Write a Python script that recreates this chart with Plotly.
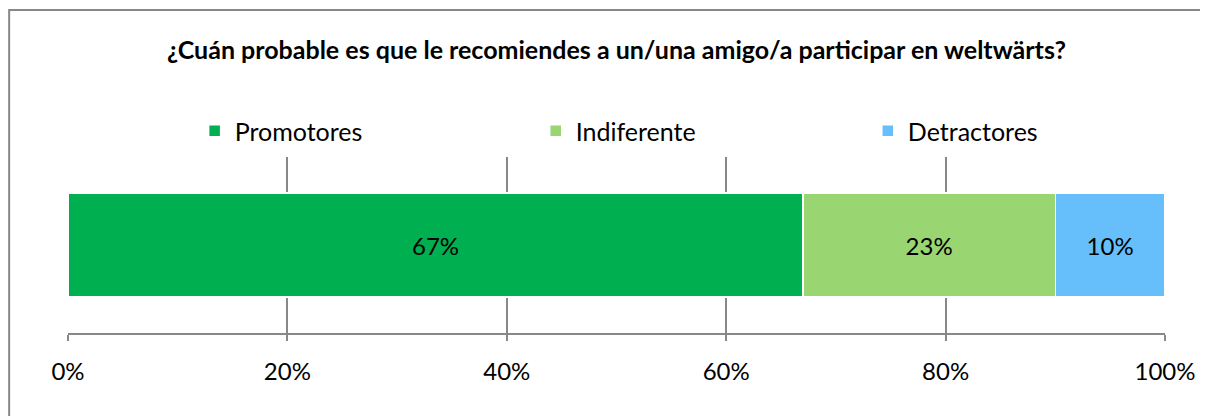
import plotly.graph_objects as go

# ── Data ───────────────────────────────────────────────────────────────────────
categories = ["Promotores", "Indiferente", "Detractores"]
shares = [67, 23, 10]
colors = ["#00B050", "#99D570", "#66BFFA"]
row_label = ["NPS"]
tick_vals = [0, 20, 40, 60, 80, 100]
tick_text = ["0%", "20%", "40%", "60%", "80%", "100%"]
title = "¿Cuán probable es que le recomiendes a un/una amigo/a participar en weltwärts?"

FONT = "Lato, 'Open Sans', sans-serif"
GRAY = "#888888"

# page body has an 8px margin, so the figure is laid out 8px in from the window
W, H = 1200, 408
L, R, T, B = 60, 40, 149, 83
PW, PH = W - L - R, H - T - B

legend_names = ["legend", "legend2", "legend3"]
legend_x = [187, 529, 862]   # left edge of each legend entry, figure px

fig = go.Figure()
for name, val, col, lg in zip(categories, shares, colors, legend_names):
    fig.add_trace(go.Bar(
        x=[val], y=row_label, name=name, orientation="h", legend=lg,
        showlegend=True,
        marker=dict(color=col, line=dict(color="white", width=1.5)),
        text=[f"{val}%"], textposition="inside", insidetextanchor="middle",
        textfont=dict(size=24, color="black", family=FONT),
        hoverinfo="name+x",
    ))

leg_y = (T + PH - 123) / PH
legends = {}
for lg, lx in zip(legend_names, legend_x):
    legends[lg] = dict(orientation="h", x=(lx - L) / PW, xanchor="left",
                       y=leg_y, yanchor="middle", bgcolor="rgba(0,0,0,0)",
                       visible=True,
                       font=dict(size=25, family=FONT, color="black"))

fig.update_layout(
    barmode="stack", bargap=0.41,
    width=W, height=H, showlegend=True,
    margin=dict(l=L, r=R, t=T, b=B),
    paper_bgcolor="white", plot_bgcolor="white",
    font=dict(family=FONT, size=24, color="black"),
    title=dict(text=f"<b>{title}</b>", x=0.5, xref="paper", xanchor="center",
               y=1 - 42 / H, yanchor="middle", font=dict(size=25, family=FONT)),
    xaxis=dict(range=[0, 100], tickvals=tick_vals, ticktext=tick_text,
               showgrid=True, gridcolor=GRAY, gridwidth=1.5,
               showline=True, linecolor=GRAY, linewidth=1.5,
               ticks="outside", ticklen=6, tickcolor=GRAY, tickwidth=1.5,
               ticklabelstandoff=10, zeroline=False, fixedrange=True,
               tickfont=dict(size=24)),
    yaxis=dict(showticklabels=False, showgrid=False, zeroline=False,
               showline=False, fixedrange=True),
    shapes=[dict(type="rect", xref="paper", yref="paper",
                 x0=(1 - L) / PW, x1=1.2, y0=-0.6, y1=(T + PH - 2) / PH,
                 line=dict(color=GRAY, width=2), fillcolor="rgba(0,0,0,0)",
                 layer="below")],
    **legends,
)

fig.write_html("out.html")
